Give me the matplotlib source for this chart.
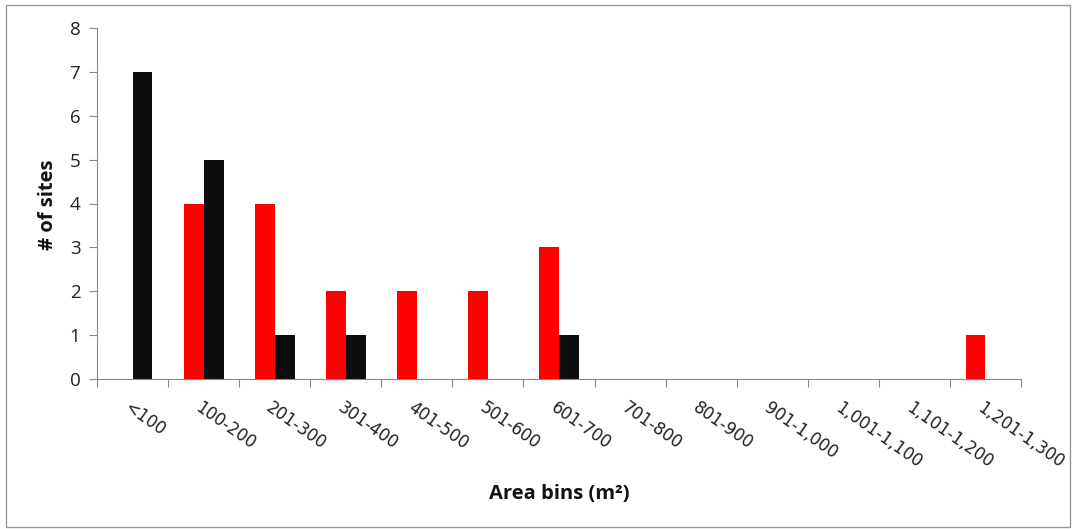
"""Bar chart of site counts by area bin."""
import matplotlib
matplotlib.use('Agg')
import matplotlib.pyplot as plt
import numpy as np

BINS = ['<100', '100-200', '201-300', '301-400', '401-500', '501-600', '601-700',
        '701-800', '801-900', '901-1,000', '1,001-1,100', '1,101-1,200', '1,201-1,300']
RED = [0, 4, 4, 2, 2, 2, 3, 0, 0, 0, 0, 0, 1]
BLACK = [7, 5, 1, 1, 0, 0, 1, 0, 0, 0, 0, 0, 0]
Y_TICKS = list(range(0, 9))


def main():
    fig = plt.figure(figsize=(10.74, 5.29), dpi=100)
    ax = fig.add_axes([97 / 1074, 1 - 379 / 529, (1021 - 97) / 1074, (379 - 28) / 529])

    x = np.arange(len(BINS))
    w = 0.28
    ax.bar(x - w / 2, RED, width=w, color='#ff0000', linewidth=0)
    ax.bar(x + w / 2, BLACK, width=w, color='#0d0d0d', linewidth=0)

    ax.set_xlim(-0.5, len(BINS) - 0.5)
    ax.set_ylim(0, 8)
    ax.set_yticks(Y_TICKS)
    ax.set_yticklabels([str(v) for v in Y_TICKS], fontsize=13.5, family='Open Sans',
                       color='#222222')

    # category ticks sit between bins, labels at the centres
    ax.set_xticks(np.arange(-0.5, len(BINS)))
    ax.set_xticklabels([])
    ax.tick_params(axis='x', length=6, color='#888888', direction='out')
    ax.tick_params(axis='y', length=6, color='#888888', direction='out', pad=6)
    for i, lab in enumerate(BINS):
        ax.text(i - 0.02, -0.45, lab, rotation=-35, rotation_mode='anchor', ha='left', va='top',
                fontsize=12, family='DejaVu Sans', color='#222222')

    for side in ('top', 'right'):
        ax.spines[side].set_visible(False)
    for side in ('left', 'bottom'):
        ax.spines[side].set_color('#888888')

    fig.text(48 / 1074, 1 - 205 / 529, '# of sites', rotation=90, ha='center', va='center',
             fontsize=14.5, fontweight='bold', family='Open Sans', color='#111111')
    fig.text(559 / 1074, 1 - 494 / 529, 'Area bins (m\u00b2)', ha='center', va='center',
             fontsize=14.5, fontweight='bold', family='Open Sans', color='#111111')

    # outer chart-area border
    fig.patches.append(plt.Rectangle((6 / 1074, 2 / 529), 1064 / 1074, 522 / 529,
                                     transform=fig.transFigure, fill=False,
                                     edgecolor='#999999', linewidth=1))

    fig.savefig('out.png', dpi=100)
    return 0


if __name__ == '__main__':
    main()
